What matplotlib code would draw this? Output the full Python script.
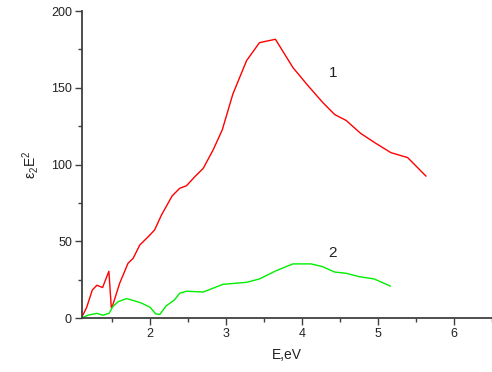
import matplotlib
matplotlib.use("Agg")
import matplotlib.pyplot as plt
from matplotlib.ticker import MultipleLocator

plt.rcParams['font.family'] = ['Liberation Sans', 'DejaVu Sans']
plt.rcParams['mathtext.default'] = 'regular'

# Curve 1 (red)
e1 = [1.10, 1.165, 1.24, 1.30, 1.375, 1.458, 1.49, 1.51, 1.60, 1.71, 1.777, 1.865,
      1.974, 2.06, 2.15, 2.29, 2.39, 2.48, 2.59, 2.70, 2.83, 2.95, 3.09, 3.27,
      3.44, 3.65, 3.88, 4.07, 4.27, 4.43, 4.58, 4.77, 4.97, 5.17, 5.39, 5.63]
v1 = [0.6, 7, 18.4, 21.5, 20, 30.6, 7, 8.7, 22.8, 35.8, 39, 47.7,
      53, 57.5, 67.2, 79.6, 84.6, 86.3, 92.2, 97.6, 109.6, 122.6, 146, 167.7,
      179.4, 181.6, 163.2, 151.9, 140.6, 132.6, 128.8, 120.4, 113.9, 107.8, 104.6, 92.6]

# Curve 2 (green)
e2 = [1.12, 1.186, 1.30, 1.38, 1.46, 1.51, 1.58, 1.69, 1.80, 1.89, 2.0, 2.075,
      2.13, 2.21, 2.32, 2.39, 2.48, 2.70, 2.96, 3.27, 3.44, 3.66, 3.88, 4.12,
      4.27, 4.43, 4.58, 4.75, 4.95, 5.16]
v2 = [0.6, 2.1, 3.2, 2, 3.2, 7.6, 10.8, 12.8, 11.3, 9.8, 7.2, 2.8,
      2.6, 8, 11.9, 16.3, 17.6, 17.1, 22.1, 23.4, 25.6, 31, 35.4, 35.4,
      33.6, 30.1, 29.3, 27.1, 25.6, 21]

xticks = [2, 3, 4, 5, 6]
yticks = [0, 50, 100, 150, 200]

fig = plt.figure(figsize=(4.92, 3.72), dpi=100)
ax = fig.add_axes([0.166, 0.1444, 0.834, 0.826])
ax.plot(e1, v1, color='#ff0000', lw=1.0)
ax.plot(e2, v2, color='#00ee00', lw=1.0)

ax.set_xlim(1.1, 6.5)
ax.set_ylim(0, 200)
ax.set_xticks(xticks)
ax.set_yticks(yticks)
ax.xaxis.set_minor_locator(MultipleLocator(0.5))
ax.yaxis.set_minor_locator(MultipleLocator(25))

for s in ['top', 'right']:
    ax.spines[s].set_visible(False)
for s in ['left', 'bottom']:
    ax.spines[s].set_color('#404040')
    ax.spines[s].set_linewidth(1.3)

ax.tick_params(which='major', direction='out', length=5, width=1.0, color='#404040',
               labelsize=9, labelcolor='#222222', pad=2)
ax.tick_params(which='minor', direction='out', length=3, width=1.0, color='#404040')

ax.set_xlabel('E,eV', fontsize=10, color='#222222', labelpad=6)
ax.set_ylabel(r'ε$_2$E$^2$', fontsize=10, color='#222222', labelpad=7)

ax.text(4.41, 159.5, '1', fontsize=11, color='#222222', ha='center', va='center')
ax.text(4.40, 42.7, '2', fontsize=11, color='#222222', ha='center', va='center')

fig.savefig('out.png', dpi=100)
